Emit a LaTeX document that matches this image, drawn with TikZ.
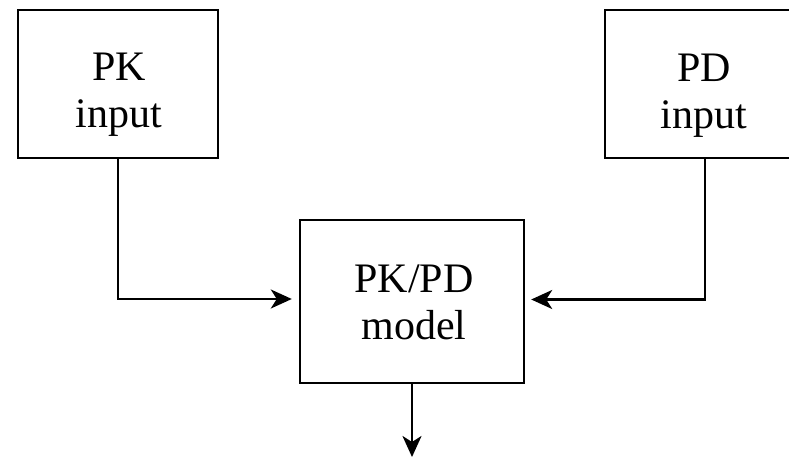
\documentclass[tikz,border=0pt]{standalone}
\usepackage{fontspec}
\setmainfont{Liberation Serif}
\usetikzlibrary{arrows.meta}
\begin{document}
\begin{tikzpicture}[x=1bp,y=-1bp,
  boxnode/.style={draw, line width=2.4bp, inner sep=0pt, minimum width=#1},
  lbl/.style={align=center, inner sep=0pt, anchor=north, font=\fontsize{42bp}{46.5bp}\selectfont},
  arr/.style={line width=2.5bp, -{Stealth[length=21bp,width=19bp,inset=6bp]}}]
\useasboundingbox (0,0) rectangle (789,458);
\node[boxnode=200bp, minimum height=148bp] (pk) at (118,84) {};
\node[boxnode=200bp, minimum height=148bp] (pd) at (705,84) {};
\node[boxnode=224bp, minimum height=163bp] (model) at (412,301.5) {};
\node[lbl] (pkt) at (119,53) {PK\\input};
\node[lbl] (pdt) at (704,54) {PD\\input};
\node[lbl] (modelt) at (414,265) {PK/PD\\model};
\coordinate (out) at (412,457);
\draw[arr, shorten >=7bp] (pk.south) |- ([yshift=2.5bp]model.west);
\draw[arr, shorten >=6bp] (pd.south) |- ([yshift=2bp]model.east);
\draw[arr] (model.south) -- (out);
\end{tikzpicture}
\end{document}
